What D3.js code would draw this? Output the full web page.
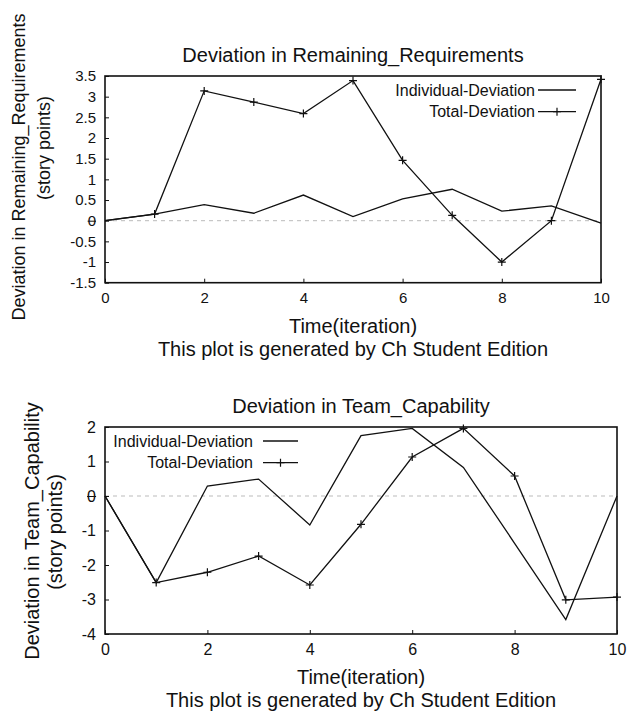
<!DOCTYPE html>
<html>
<head>
<meta charset="utf-8">
<script src="https://cdn.jsdelivr.net/npm/d3@7"></script>
<style>
  body { margin: 0; background: #fff; }
  svg { display: block; }
  text { font-family: "Liberation Sans", Arial, Helvetica, sans-serif; fill: #111; }
</style>
</head>
<body>
<div id="chart"></div>
<script>
// iterations on the x axis
const iterations = [0, 1, 2, 3, 4, 5, 6, 7, 8, 9, 10];

// Remaining_Requirements panel
const rrIndividual = [0, 0.16, 0.39, 0.18, 0.62, 0.10, 0.53, 0.76, 0.23, 0.36, -0.06];
const rrTotal = [0, 0.16, 3.14, 2.87, 2.59, 3.39, 1.46, 0.13, -1.0, 0, 3.42];
const rrYTicks = [-1.5, -1, -0.5, 0, 0.5, 1, 1.5, 2, 2.5, 3, 3.5];

// Team_Capability panel
const tcIndividual = [0, -2.51, 0.29, 0.49, -0.84, 1.75, 1.96, 0.83, -1.37, -3.58, 0];
const tcTotal = [0, -2.51, -2.21, -1.74, -2.58, -0.82, 1.13, 1.96, 0.58, -3.01, -2.93];
const tcYTicks = [-4, -3, -2, -1, 0, 1, 2];

const xTicks = [0, 2, 4, 6, 8, 10];
const seriesNames = ["Individual-Deviation", "Total-Deviation"];

const W = 628, H = 711;

const svg = d3.select("#chart").append("svg")
  .attr("width", W)
  .attr("height", H);

svg.append("rect").attr("width", W).attr("height", H).attr("fill", "#fff");

function plus(g, x, y, s) {
  g.append("path")
    .attr("d", "M" + (x - s) + "," + y + "H" + (x + s) + "M" + x + "," + (y - s) + "V" + (y + s))
    .attr("stroke", "#111")
    .attr("stroke-width", 1.2)
    .attr("fill", "none");
}

function drawPanel(p) {
  const g = svg.append("g");
  const x = d3.scaleLinear().domain([0, 10]).range([p.left, p.right]);
  const y = d3.scaleLinear().domain(p.yDomain).range([p.bottom, p.top]);

  // dashed zero line
  g.append("line")
    .attr("x1", p.left).attr("x2", p.right)
    .attr("y1", y(0)).attr("y2", y(0))
    .attr("stroke", "#bbb")
    .attr("stroke-width", 1)
    .attr("stroke-dasharray", "4,4");

  // axes
  const ya = g.append("g")
    .attr("transform", "translate(" + p.left + ",0)")
    .call(d3.axisLeft(y).tickValues(p.yTicks).tickSize(-4).tickPadding(9).tickFormat(d => String(d)));
  const xa = g.append("g")
    .attr("transform", "translate(0," + p.bottom + ")")
    .call(d3.axisBottom(x).tickValues(xTicks).tickSize(-4).tickPadding(10).tickFormat(d => String(d)));
  [ya, xa].forEach(a => {
    a.select(".domain").remove();
    a.selectAll("line").attr("stroke", "#111").attr("stroke-width", 1);
    a.selectAll("text").attr("font-size", p.tickFont).attr("fill", "#111")
      .attr("font-family", '"Liberation Sans", Arial, sans-serif');
  });

  // the zero label is crossed by the zero axis
  ya.selectAll(".tick").filter(d => d === 0).each(function() {
    const bb = this.querySelector("text").getBBox();
    d3.select(this).append("line")
      .attr("x1", bb.x).attr("x2", bb.x + bb.width)
      .attr("y1", 0).attr("y2", 0)
      .attr("stroke", "#111").attr("stroke-width", 1);
  });

  // lines
  const line = d3.line().x((d, i) => x(iterations[i])).y(d => y(d));
  g.append("path").datum(p.individual)
    .attr("d", line).attr("fill", "none").attr("stroke", "#111").attr("stroke-width", 1.3);
  g.append("path").datum(p.total)
    .attr("d", line).attr("fill", "none").attr("stroke", "#111").attr("stroke-width", 1.3);
  p.total.forEach((v, i) => { if (i > 0) plus(g, x(iterations[i]), y(v), 4); });

  // frame
  g.append("rect")
    .attr("x", p.left).attr("y", p.top)
    .attr("width", p.right - p.left).attr("height", p.bottom - p.top)
    .attr("fill", "none").attr("stroke", "#111").attr("stroke-width", 1.6);

  // legend
  seriesNames.forEach((name, i) => {
    const ly = p.legendY[i];
    g.append("text")
      .attr("x", p.legendRight).attr("y", ly + 5.5)
      .attr("text-anchor", "end")
      .attr("font-size", 16)
      .text(name);
    g.append("line")
      .attr("x1", p.legendLine[0]).attr("x2", p.legendLine[1])
      .attr("y1", ly).attr("y2", ly)
      .attr("stroke", "#111").attr("stroke-width", 1.3);
    if (i === 1) plus(g, (p.legendLine[0] + p.legendLine[1]) / 2, ly, 4);
  });

  // titles
  const cx = (p.left + p.right) / 2;
  g.append("text").attr("x", cx).attr("y", p.titleY)
    .attr("text-anchor", "middle").attr("font-size", 20).text(p.title);
  g.append("text").attr("x", cx).attr("y", p.xLabelY)
    .attr("text-anchor", "middle").attr("font-size", 20).text("Time(iteration)");
  g.append("text").attr("x", cx).attr("y", p.xLabelY + 23)
    .attr("text-anchor", "middle").attr("font-size", 20).text("This plot is generated by Ch Student Edition");

  p.yLabels.forEach(l => {
    g.append("text")
      .attr("transform", "translate(" + l.x + "," + l.cy + ") rotate(-90)")
      .attr("text-anchor", "middle")
      .attr("font-size", p.yLabelFont)
      .text(l.text);
  });
}

drawPanel({
  left: 105, right: 601, top: 76, bottom: 282.7,
  yDomain: [-1.5, 3.5], yTicks: rrYTicks, tickFont: 15,
  individual: rrIndividual, total: rrTotal,
  title: "Deviation in Remaining_Requirements", titleY: 62,
  xLabelY: 333,
  yLabelFont: 18,
  yLabels: [
    { text: "Deviation in Remaining_Requirements", x: 25, cy: 167 },
    { text: "(story points)", x: 50, cy: 148 }
  ],
  legendRight: 535, legendY: [90, 111.7], legendLine: [538, 576]
});

drawPanel({
  left: 105, right: 617, top: 427, bottom: 634,
  yDomain: [-4, 2], yTicks: tcYTicks, tickFont: 16,
  individual: tcIndividual, total: tcTotal,
  title: "Deviation in Team_Capability", titleY: 413,
  xLabelY: 684,
  yLabelFont: 20,
  yLabels: [
    { text: "Deviation in Team_Capability", x: 39, cy: 531 },
    { text: "(story points)", x: 62, cy: 532 }
  ],
  legendRight: 253, legendY: [441, 462.7], legendLine: [263, 298]
});
</script>
</body>
</html>
